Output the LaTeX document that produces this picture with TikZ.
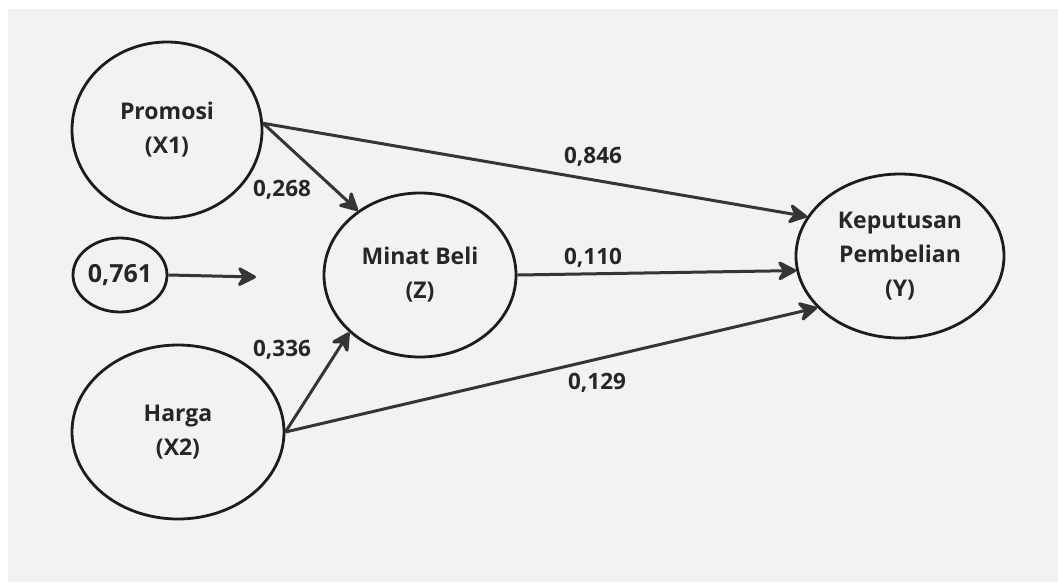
\documentclass[tikz,border=0pt]{standalone}
\usepackage{fontspec}
\setmainfont{Open Sans}
\usetikzlibrary{shapes.geometric,arrows.meta}
\definecolor{bg}{HTML}{F2F2F2}
\definecolor{ink}{HTML}{1C1C1C}
\definecolor{txt}{HTML}{262626}
\definecolor{arr}{HTML}{353535}
\tikzset{
  var/.style={ellipse, draw=ink, line width=2.8pt, inner sep=0pt, text=txt, align=center,
    font=\fontsize{23}{34}\selectfont\bfseries},
  conn/.style={draw=arr, line width=3pt, -{Stealth[length=22pt,width=23pt,inset=7pt,round]}},
  coef/.style={text=txt, font=\fontsize{22.5}{26}\selectfont\bfseries, inner sep=0pt}
}
\begin{document}
\begin{tikzpicture}[x=1pt,y=-1pt]
\useasboundingbox (0,0) rectangle (1058,582);
\fill[white] (0,0) rectangle (1058,582);
\fill[bg] (8,9) rectangle (1058,582);
\node[var, minimum width=190pt, minimum height=176pt] (P) at (167,130) {Promosi\\(X1)};
\node[var, minimum width=212pt, minimum height=174pt] (H) at (178,432) {Harga\\(X2)};
\node[var, minimum width=192pt, minimum height=164pt] (M) at (420,275) {Minat Beli\\(Z)};
\node[var, minimum width=208pt, minimum height=164pt] (K) at (900,256) {Keputusan\\Pembelian\\(Y)};
\node[var, minimum width=94pt, minimum height=74pt, font=\fontsize{25}{30}\selectfont\bfseries] (E) at (120,275) {0,761};
\coordinate (Et) at (256,277);
\draw[conn] (P.4) -- (K.157);
\draw[conn] (P.4) -- (M.134);
\draw[conn] (H.0) -- (M.219);
\draw[conn] (H.0) -- (K.212);
\draw[conn] (M.east) -- (K.188);
\draw[conn] (E.east) -- (Et);
\node[coef] (c1) at (593,157) {0,846};
\node[coef] (c2) at (282,190) {0,268};
\node[coef] (c3) at (593,258) {0,110};
\node[coef] (c4) at (282,350) {0,336};
\node[coef] (c5) at (597,383) {0,129};
\end{tikzpicture}
\end{document}
